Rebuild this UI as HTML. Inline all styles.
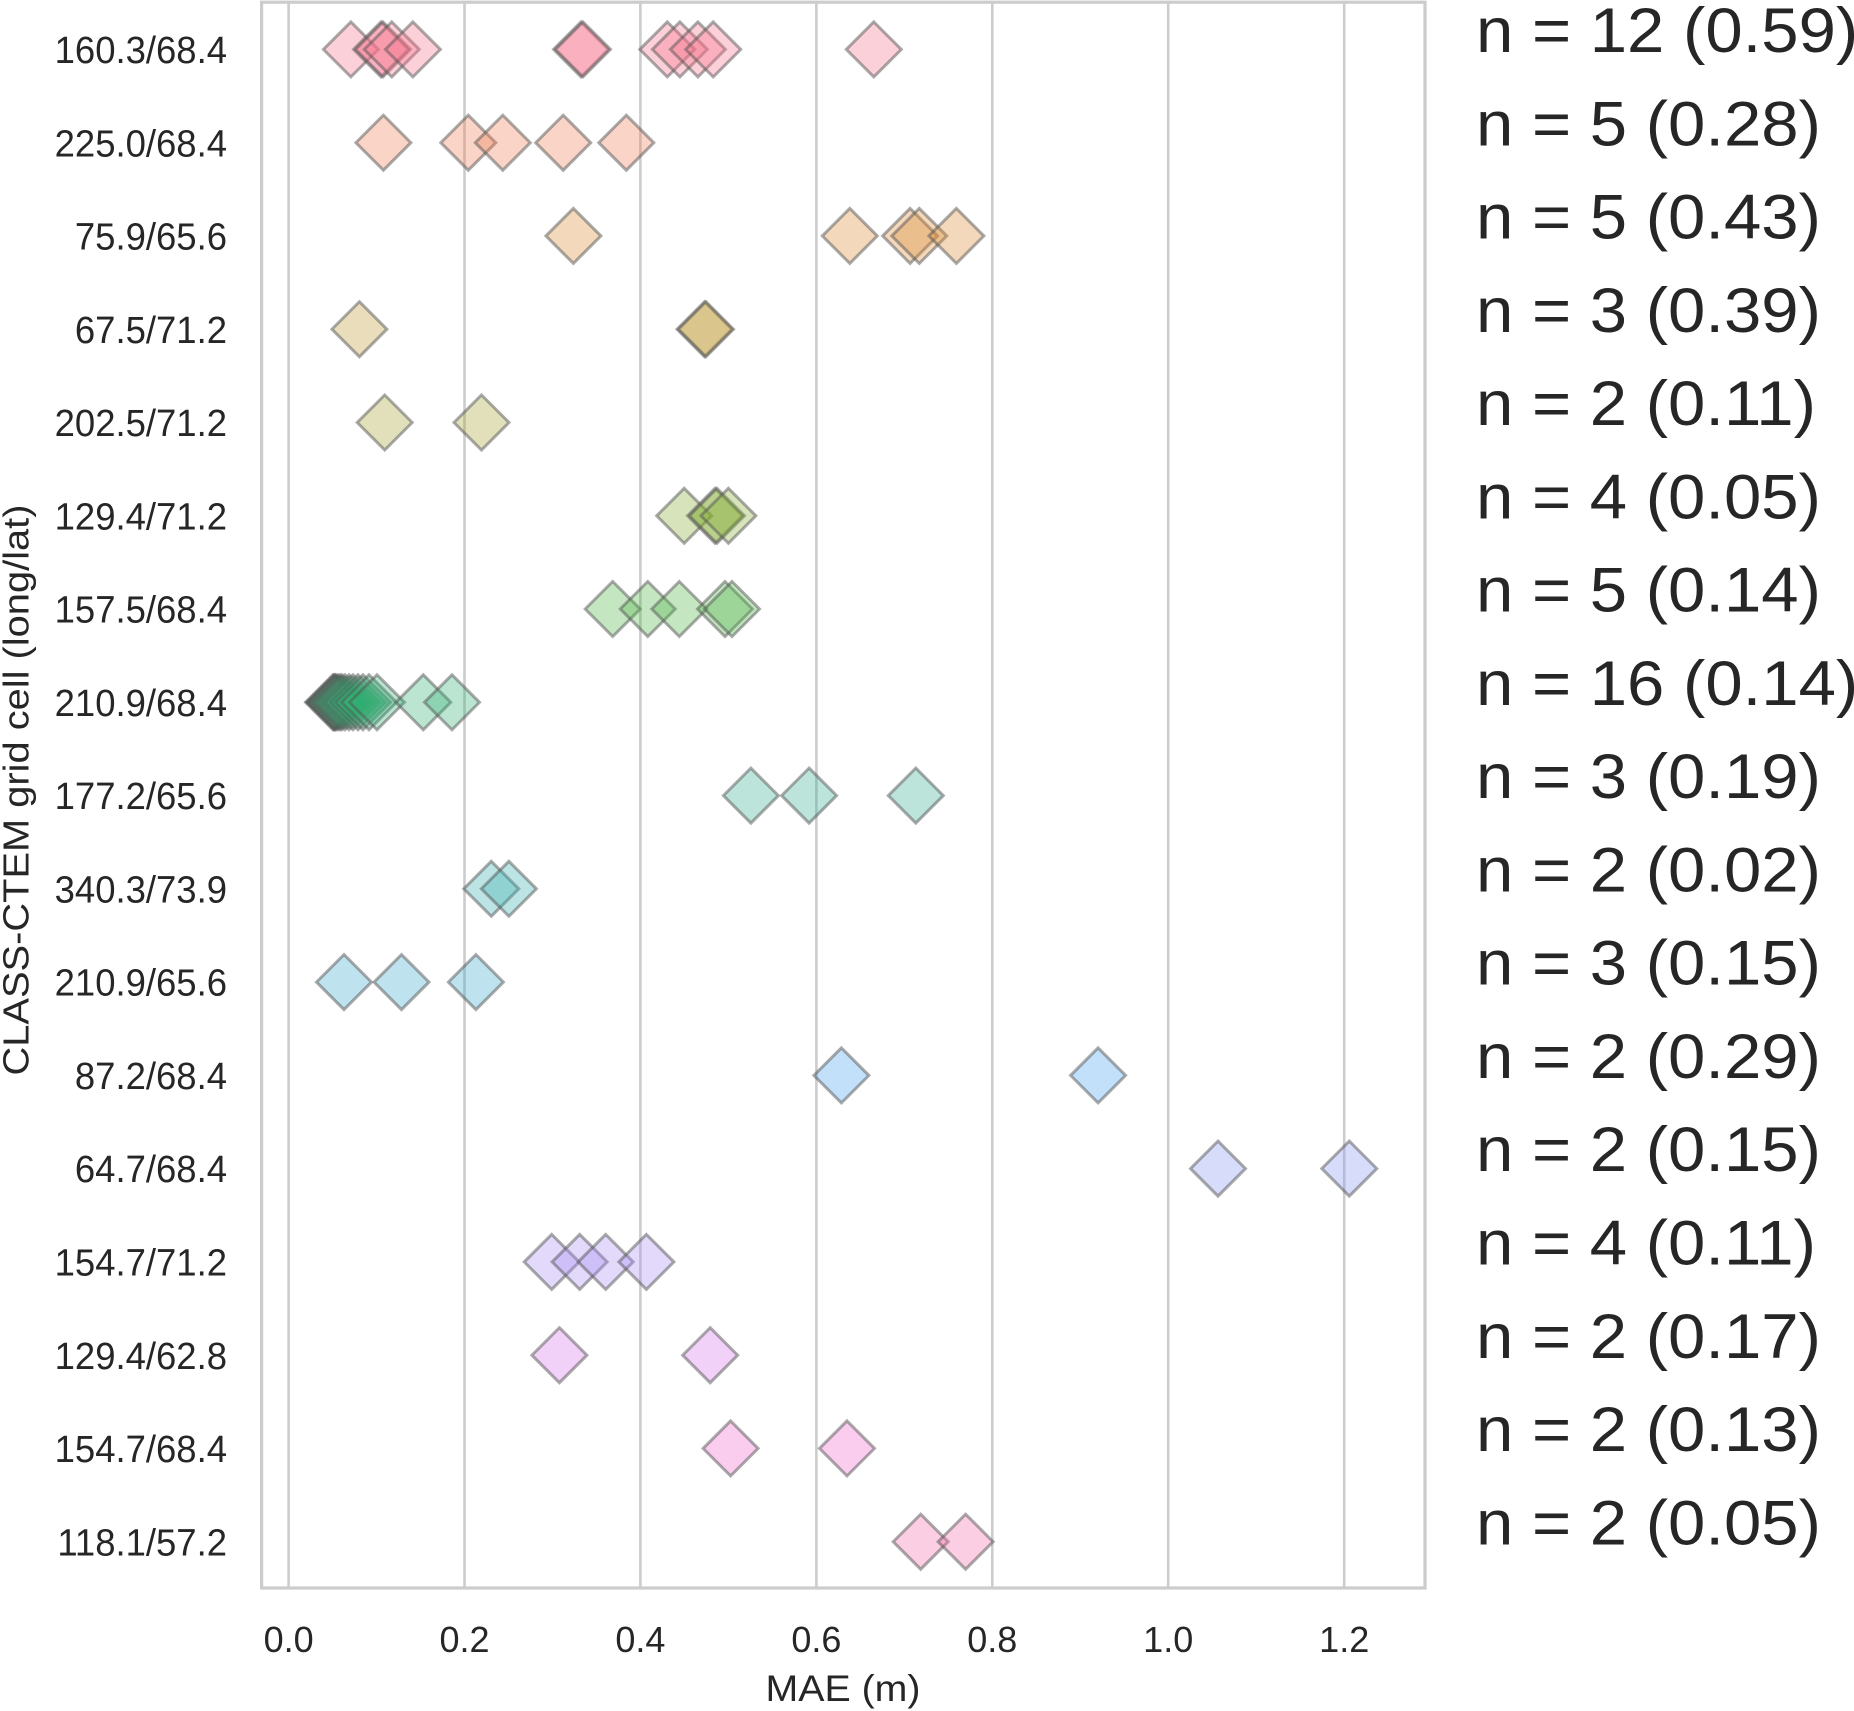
<!DOCTYPE html>
<html>
<head>
<meta charset="utf-8">
<style>
html,body{margin:0;padding:0;background:#fff;}
svg{display:block;}
text{font-family:"Liberation Sans",Arial,sans-serif;fill:#262626;}
</style>
</head>
<body>
<svg width="1854" height="1711" viewBox="0 0 1854 1711" xmlns="http://www.w3.org/2000/svg">
<rect x="0" y="0" width="1854" height="1711" fill="#fff"/>
<!-- gridlines -->
<g stroke="#cccccc" stroke-width="2.6">
<line x1="288.6" y1="2" x2="288.6" y2="1588"/>
<line x1="464.5" y1="2" x2="464.5" y2="1588"/>
<line x1="640.4" y1="2" x2="640.4" y2="1588"/>
<line x1="816.4" y1="2" x2="816.4" y2="1588"/>
<line x1="992.3" y1="2" x2="992.3" y2="1588"/>
<line x1="1168.2" y1="2" x2="1168.2" y2="1588"/>
<line x1="1344.2" y1="2" x2="1344.2" y2="1588"/>
</g>
<defs>
<polygon id="d" points="0,-27.5 27.5,0 0,27.5 -27.5,0"/>
</defs>
<g stroke="#555" stroke-opacity="0.5" stroke-width="3" fill-opacity="0.33" stroke-linejoin="miter">
<g fill="#f77189">
<use href="#d" x="350.9" y="49.4"/><use href="#d" x="381" y="49.4"/><use href="#d" x="383" y="49.4"/><use href="#d" x="391.8" y="49.4"/><use href="#d" x="412.9" y="49.4"/><use href="#d" x="581" y="49.4"/><use href="#d" x="583" y="49.4"/><use href="#d" x="667.3" y="49.4"/><use href="#d" x="679.9" y="49.4"/><use href="#d" x="697.9" y="49.4"/><use href="#d" x="713.2" y="49.4"/><use href="#d" x="873.8" y="49.4"/>
</g>
<g fill="#ef7b55">
<use href="#d" x="383.4" y="142.7"/><use href="#d" x="468.3" y="142.7"/><use href="#d" x="502.8" y="142.7"/><use href="#d" x="563.2" y="142.7"/><use href="#d" x="626.3" y="142.7"/>
</g>
<g fill="#dc8a32">
<use href="#d" x="573.4" y="235.9"/><use href="#d" x="849.8" y="235.9"/><use href="#d" x="910.1" y="235.9"/><use href="#d" x="919.3" y="235.9"/><use href="#d" x="956.4" y="235.9"/>
</g>
<g fill="#bd9731">
<use href="#d" x="359.4" y="329.2"/><use href="#d" x="704.5" y="329.2"/><use href="#d" x="706" y="329.2"/>
</g>
<g fill="#a3a131">
<use href="#d" x="384.7" y="422.5"/><use href="#d" x="481.5" y="422.5"/>
</g>
<g fill="#84a931">
<use href="#d" x="684.2" y="515.8"/><use href="#d" x="715" y="515.8"/><use href="#d" x="717" y="515.8"/><use href="#d" x="728.4" y="515.8"/>
</g>
<g fill="#4bb243">
<use href="#d" x="612.7" y="609"/><use href="#d" x="647.8" y="609"/><use href="#d" x="679.3" y="609"/><use href="#d" x="725" y="609"/><use href="#d" x="732" y="609"/>
</g>
<g fill="#31b074">
<use href="#d" x="333" y="702.3"/><use href="#d" x="334" y="702.3"/><use href="#d" x="335" y="702.3"/><use href="#d" x="336" y="702.3"/><use href="#d" x="338" y="702.3"/><use href="#d" x="340" y="702.3"/><use href="#d" x="342" y="702.3"/><use href="#d" x="345" y="702.3"/><use href="#d" x="349" y="702.3"/><use href="#d" x="353" y="702.3"/><use href="#d" x="358" y="702.3"/><use href="#d" x="363" y="702.3"/><use href="#d" x="369" y="702.3"/><use href="#d" x="377" y="702.3"/><use href="#d" x="423.3" y="702.3"/><use href="#d" x="452" y="702.3"/>
</g>
<g fill="#34ae93">
<use href="#d" x="750.9" y="795.6"/><use href="#d" x="809.1" y="795.6"/><use href="#d" x="915.8" y="795.6"/>
</g>
<g fill="#36acae">
<use href="#d" x="491.3" y="888.8"/><use href="#d" x="508.9" y="888.8"/>
</g>
<g fill="#39a8cc">
<use href="#d" x="344" y="982.1"/><use href="#d" x="401.5" y="982.1"/><use href="#d" x="475.9" y="982.1"/>
</g>
<g fill="#48a2ef">
<use href="#d" x="841.4" y="1075.4"/><use href="#d" x="1098.1" y="1075.4"/>
</g>
<g fill="#8596f2">
<use href="#d" x="1218" y="1168.6"/><use href="#d" x="1349.3" y="1168.6"/>
</g>
<g fill="#a78bf4">
<use href="#d" x="551.7" y="1261.9"/><use href="#d" x="579.7" y="1261.9"/><use href="#d" x="605.7" y="1261.9"/><use href="#d" x="646.4" y="1261.9"/>
</g>
<g fill="#d872ec">
<use href="#d" x="559.4" y="1355.2"/><use href="#d" x="710.2" y="1355.2"/>
</g>
<g fill="#f067cf">
<use href="#d" x="730.6" y="1448.4"/><use href="#d" x="847" y="1448.4"/>
</g>
<g fill="#f36ba9">
<use href="#d" x="920.7" y="1541.7"/><use href="#d" x="965.6" y="1541.7"/>
</g>
</g>
<!-- spines -->
<rect x="261.6" y="2.2" width="1163.4" height="1585.8" fill="none" stroke="#cccccc" stroke-width="3.2"/>

<!-- y tick labels -->
<g font-size="38" text-anchor="end">
<text transform="translate(227 63) scale(0.96 1)">160.3/68.4</text>
<text transform="translate(227 156.3) scale(0.96 1)">225.0/68.4</text>
<text transform="translate(227 249.5) scale(0.96 1)">75.9/65.6</text>
<text transform="translate(227 342.8) scale(0.96 1)">67.5/71.2</text>
<text transform="translate(227 436.1) scale(0.96 1)">202.5/71.2</text>
<text transform="translate(227 529.4) scale(0.96 1)">129.4/71.2</text>
<text transform="translate(227 622.6) scale(0.96 1)">157.5/68.4</text>
<text transform="translate(227 715.9) scale(0.96 1)">210.9/68.4</text>
<text transform="translate(227 809.2) scale(0.96 1)">177.2/65.6</text>
<text transform="translate(227 902.4) scale(0.96 1)">340.3/73.9</text>
<text transform="translate(227 995.7) scale(0.96 1)">210.9/65.6</text>
<text transform="translate(227 1089) scale(0.96 1)">87.2/68.4</text>
<text transform="translate(227 1182.2) scale(0.96 1)">64.7/68.4</text>
<text transform="translate(227 1275.5) scale(0.96 1)">154.7/71.2</text>
<text transform="translate(227 1368.8) scale(0.96 1)">129.4/62.8</text>
<text transform="translate(227 1462) scale(0.96 1)">154.7/68.4</text>
<text transform="translate(227 1555.3) scale(0.96 1)">118.1/57.2</text>
</g>

<!-- x tick labels -->
<g font-size="36" text-anchor="middle">
<text x="288.6" y="1652">0.0</text>
<text x="464.5" y="1652">0.2</text>
<text x="640.4" y="1652">0.4</text>
<text x="816.4" y="1652">0.6</text>
<text x="992.3" y="1652">0.8</text>
<text x="1168.2" y="1652">1.0</text>
<text x="1344.2" y="1652">1.2</text>
</g>

<!-- axis labels -->
<text x="843" y="1701" font-size="37" text-anchor="middle" textLength="155" lengthAdjust="spacingAndGlyphs">MAE (m)</text>
<text transform="translate(28.5 790) rotate(-90)" font-size="36" text-anchor="middle" textLength="571" lengthAdjust="spacingAndGlyphs">CLASS-CTEM grid cell (long/lat)</text>

<!-- right annotations -->
<g font-size="63">
<text transform="translate(1476 52) scale(1.065 1)">n = 12 (0.59)</text>
<text transform="translate(1476 145.3) scale(1.065 1)">n = 5 (0.28)</text>
<text transform="translate(1476 238.5) scale(1.065 1)">n = 5 (0.43)</text>
<text transform="translate(1476 331.8) scale(1.065 1)">n = 3 (0.39)</text>
<text transform="translate(1476 425.1) scale(1.065 1)">n = 2 (0.11)</text>
<text transform="translate(1476 518.4) scale(1.065 1)">n = 4 (0.05)</text>
<text transform="translate(1476 611.6) scale(1.065 1)">n = 5 (0.14)</text>
<text transform="translate(1476 704.9) scale(1.065 1)">n = 16 (0.14)</text>
<text transform="translate(1476 798.2) scale(1.065 1)">n = 3 (0.19)</text>
<text transform="translate(1476 891.4) scale(1.065 1)">n = 2 (0.02)</text>
<text transform="translate(1476 984.7) scale(1.065 1)">n = 3 (0.15)</text>
<text transform="translate(1476 1078) scale(1.065 1)">n = 2 (0.29)</text>
<text transform="translate(1476 1171.2) scale(1.065 1)">n = 2 (0.15)</text>
<text transform="translate(1476 1264.5) scale(1.065 1)">n = 4 (0.11)</text>
<text transform="translate(1476 1357.8) scale(1.065 1)">n = 2 (0.17)</text>
<text transform="translate(1476 1451) scale(1.065 1)">n = 2 (0.13)</text>
<text transform="translate(1476 1544.3) scale(1.065 1)">n = 2 (0.05)</text>
</g>
</svg>
</body>
</html>
